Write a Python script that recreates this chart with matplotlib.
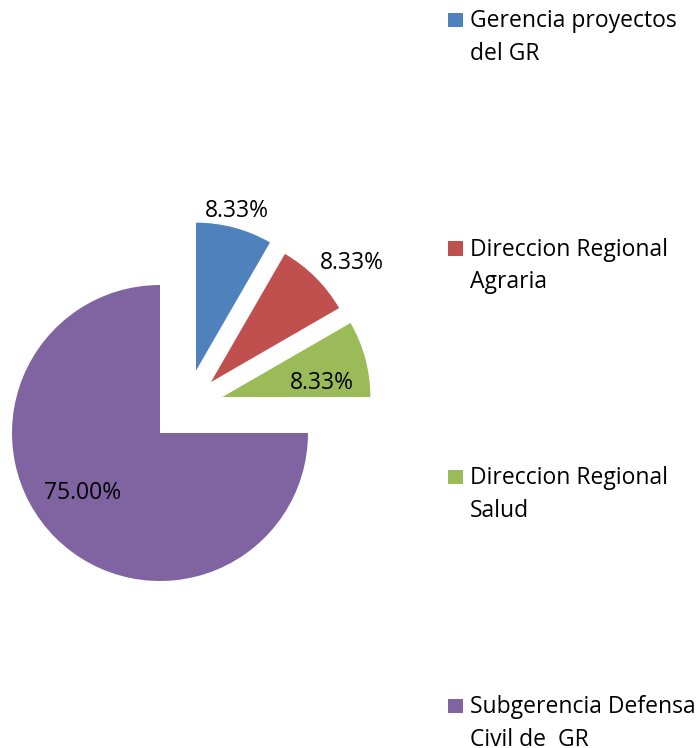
import numpy as np
import matplotlib
matplotlib.use("Agg")
import matplotlib.pyplot as plt
from matplotlib.patches import Rectangle

# Data
categories = ["Gerencia proyectos\ndel GR", "Direccion Regional\nAgraria",
              "Direccion Regional\nSalud", "Subgerencia Defensa\nCivil de  GR"]
counts = [1, 1, 1, 9]
colors = ["#4F81BD", "#C0504D", "#9BBB59", "#8064A2"]
exploded = [True, True, True, False]

W, H = 697, 748
plt.rcParams['font.family'] = ['Open Sans', 'DejaVu Sans']
FS = 16.5

fig = plt.figure(figsize=(W / 100, H / 100), dpi=100)
ax = fig.add_axes([0, 0, 1, 1])

cx, cy, r = 160, H - 433, 148
wedges, texts, autotexts = ax.pie(counts, colors=colors, startangle=90, counterclock=False,
                                  center=(cx, cy), radius=r, autopct='%1.2f%%',
                                  wedgeprops={'linewidth': 0})

# pie() resets the limits, so set the pixel-sized frame afterwards
ax.set_xlim(0, W)
ax.set_ylim(0, H)
ax.set_aspect('equal')
ax.axis('off')

# Excel-style explosion: pulled slices spread around the 45 deg direction
explode_dist = 72
# label placement relative to each (shifted) wedge center: (radius fraction, angle)
label_pos = [(1.13, 76), (1.26, 41), (0.68, 10), (0.65, 216)]

for w, t, ex, (lf, la) in zip(wedges, autotexts, exploded, label_pos):
    mid = (w.theta1 + w.theta2) / 2
    ox, oy = cx, cy
    if ex:
        d = np.radians(45 + (mid - 45) / 2)
        ox, oy = cx + explode_dist * np.cos(d), cy + explode_dist * np.sin(d)
        w.set_center((ox, oy))
    a = np.radians(la)
    t.set_position((ox + lf * r * np.cos(a), oy + lf * r * np.sin(a)))
    t.set_fontsize(FS)
    t.set_color('black')
    t.set_ha('center')
    t.set_va('center_baseline')

# Legend, drawn by hand so the swatch sits on the first line
line_gap = 32.5
for i, (lab, col) in enumerate(zip(categories, colors)):
    base = H - (27 + 228.7 * i)
    ax.add_patch(Rectangle((448, base), 14.5, 14.5, color=col, lw=0))
    for k, line in enumerate(lab.split("\n")):
        ax.text(470, base - k * line_gap, line, fontsize=FS, va='baseline', ha='left')

fig.savefig("out.png", dpi=100)
